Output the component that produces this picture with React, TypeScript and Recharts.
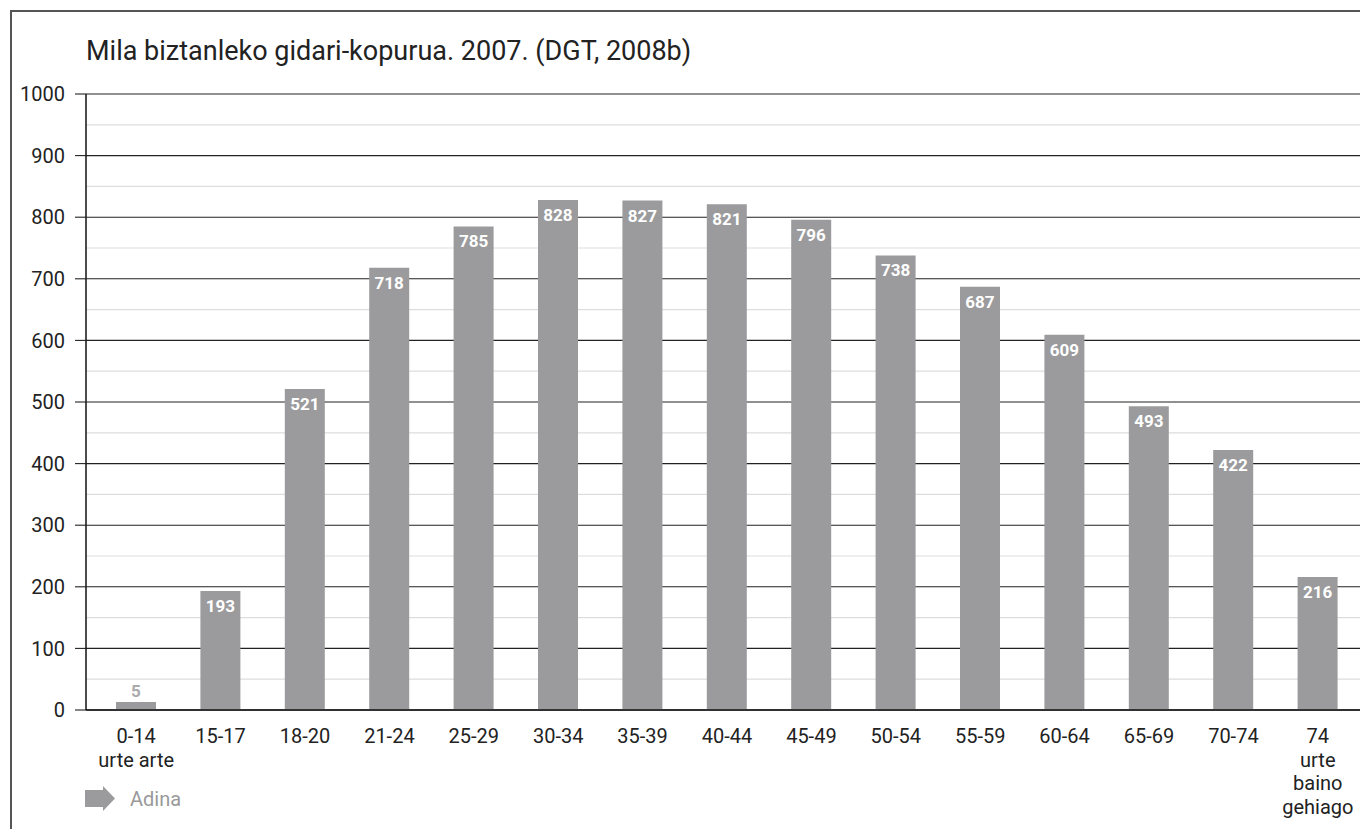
import React from "react";
import { BarChart, Bar, XAxis, YAxis, CartesianGrid, LabelList } from "recharts";

const categories = [
  "0-14\nurte arte",
  "15-17",
  "18-20",
  "21-24",
  "25-29",
  "30-34",
  "35-39",
  "40-44",
  "45-49",
  "50-54",
  "55-59",
  "60-64",
  "65-69",
  "70-74",
  "74\nurte\nbaino\ngehiago",
];
const values = [5, 193, 521, 718, 785, 828, 827, 821, 796, 738, 687, 609, 493, 422, 216];
const majorTicks = [0, 100, 200, 300, 400, 500, 600, 700, 800, 900, 1000];
const minorTicks = [50, 150, 250, 350, 450, 550, 650, 750, 850, 950];

const title = "Mila biztanleko gidari-kopurua. 2007. (DGT, 2008b)";
const legendText = "Adina";

const data = categories.map((c, i) => ({ name: c, value: values[i] }));

const FONT = "Roboto, 'DejaVu Sans', sans-serif";
const BAR = "#9b9b9d";

const XTick = (props: any) => {
  const { x, y, payload } = props;
  const lines = String(payload.value).split("\n");
  return (
    <g>
      {lines.map((l, i) => (
        <text
          key={i}
          x={x}
          y={y + 25 + i * 23.5}
          textAnchor="middle"
          fontSize={20}
          fill="#222"
          fontFamily={FONT}
        >
          {l}
        </text>
      ))}
    </g>
  );
};

const ValueLabel = (props: any) => {
  const { x, y, width, value } = props;
  const cx = x + width / 2;
  if (value < 50) {
    return (
      <text x={cx} y={y - 5} textAnchor="middle" fontSize={17} fontWeight="bold" fill="#aaa" fontFamily={FONT}>
        {value}
      </text>
    );
  }
  return (
    <text x={cx} y={y + 21} textAnchor="middle" fontSize={17} fontWeight="bold" fill="#fff" fontFamily={FONT}>
      {value}
    </text>
  );
};

const EmptyTick = () => <g />;

export default function App() {
  return (
    <div style={{ position: "absolute", left: 0, top: 0, width: 1360, height: 829, background: "#fff", fontFamily: FONT, overflow: "hidden" }}>
      <div
        style={{
          position: "absolute",
          left: 10,
          top: 10,
          width: 1400,
          height: 900,
          borderLeft: "2px solid #555",
          borderTop: "2px solid #555",
        }}
      />
      <div style={{ position: "absolute", left: 86, top: 34, fontSize: 27, color: "#222", whiteSpace: "nowrap", lineHeight: "34px" }}>
        {title}
      </div>
      <div style={{ position: "absolute", left: 0, top: 0 }}>
        <BarChart width={1360} height={829} data={data} margin={{ top: 94, right: 0, bottom: 0, left: 0 }} barSize={40}>
          <CartesianGrid yAxisId="main" vertical={false} horizontalValues={minorTicks} stroke="#dddddd" strokeWidth={1.2} />
          <CartesianGrid yAxisId="main" vertical={false} stroke="#222" strokeWidth={1.1} />
          <XAxis
            dataKey="name"
            height={119}
            padding={{ left: 8, right: 0 }}
            tickLine={false}
            axisLine={{ stroke: "#111", strokeWidth: 1.5 }}
            tick={<XTick />}
            interval={0}
          />
          <YAxis
            yAxisId="minor"
            width={0}
            domain={[0, 1000]}
            ticks={minorTicks}
            interval={0}
            tick={<EmptyTick />}
            tickSize={11}
            tickLine={{ stroke: "#dddddd", strokeWidth: 1.2 }}
            axisLine={false}
          />
          <YAxis
            yAxisId="main"
            width={86}
            domain={[0, 1000]}
            ticks={majorTicks}
            interval={0}
            tickSize={11}
            tickMargin={10}
            tick={{ fontSize: 20, fill: "#222", fontFamily: FONT }}
            tickLine={{ stroke: "#222", strokeWidth: 1.1 }}
            axisLine={{ stroke: "#111", strokeWidth: 1.5 }}
          />
          <Bar yAxisId="main" dataKey="value" fill={BAR} isAnimationActive={false} minPointSize={8}>
            <LabelList dataKey="value" content={<ValueLabel />} />
          </Bar>
        </BarChart>
      </div>
      <svg style={{ position: "absolute", left: 85, top: 786 }} width={31} height={26}>
        <polygon points="0,4 18,4 18,0 30,12.5 18,25 18,21 0,21" fill={BAR} />
      </svg>
      <div style={{ position: "absolute", left: 130, top: 787, fontSize: 20, color: "#999", lineHeight: "24px" }}>{legendText}</div>
    </div>
  );
}
